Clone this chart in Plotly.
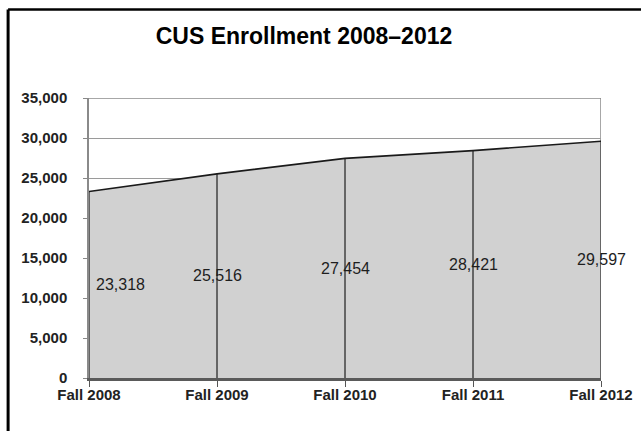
import plotly.graph_objects as go

# Enrollment by fall term
terms = ["Fall 2008", "Fall 2009", "Fall 2010", "Fall 2011", "Fall 2012"]
enrollment = [23318, 25516, 27454, 28421, 29597]
y_ticks = [0, 5000, 10000, 15000, 20000, 25000, 30000, 35000]

xs = list(range(len(terms)))
FONT = "Liberation Sans, Arial"

fig = go.Figure()

# Filled area under the enrollment line
fig.add_trace(go.Scatter(
    x=xs, y=enrollment, mode="lines",
    line=dict(color="#1a1a1a", width=1.6),
    fill="tozeroy", fillcolor="#d1d1d1",
    hoverinfo="skip", showlegend=False,
))

# Drop lines from the axis up to each data point
drop_x, drop_y = [], []
for x, v in zip(xs, enrollment):
    drop_x += [x, x, None]
    drop_y += [0, v, None]
fig.add_trace(go.Scatter(
    x=drop_x, y=drop_y, mode="lines",
    line=dict(color="#1e1e1e", width=1.2),
    hoverinfo="skip", showlegend=False,
))

# Value labels placed at the middle of the area
for x, v in zip(xs, enrollment):
    fig.add_annotation(
        x=x, y=v / 2, text=f"{v:,}", showarrow=False,
        xshift=31 if x == 0 else 0,
        font=dict(family=FONT, size=16, color="#1e1e1e"),
    )

# Outer frame (top and left edges)
fig.add_shape(type="line", xref="paper", yref="paper",
              x0=-0.158, x1=1.2, y0=1.316, y1=1.316,
              line=dict(color="black", width=2.5))
fig.add_shape(type="line", xref="paper", yref="paper",
              x0=-0.158, x1=-0.158, y0=1.316, y1=-0.3,
              line=dict(color="black", width=3))

# Plot-area border on the top and right
fig.add_shape(type="line", xref="x", yref="y", x0=4, x1=4, y0=0, y1=35000,
              line=dict(color="#8a8a8a", width=1.5), layer="below")
fig.add_shape(type="line", xref="x", yref="y", x0=0, x1=4, y0=35000, y1=35000,
              line=dict(color="#8a8a8a", width=1.5), layer="below")

fig.update_layout(
    width=641, height=431,
    margin=dict(l=89, r=40, t=98, b=53),
    paper_bgcolor="white", plot_bgcolor="white",
    title=dict(
        text="<b>CUS Enrollment 2008–2012</b>",
        x=304 / 641, xanchor="center", y=1 - 36 / 431, yanchor="middle",
        font=dict(family=FONT, size=23, color="black"),
    ),
    xaxis=dict(
        range=[0, 4], tickmode="array", tickvals=xs,
        ticktext=[f"<b>{t}</b>" for t in terms],
        showgrid=False, zeroline=False, automargin=False,
        ticks="outside", ticklen=6, tickcolor="#555555",
        ticklabelstandoff=-5,
        showline=True, linecolor="#5a5a5a", linewidth=2.5,
        tickfont=dict(family=FONT, size=15, color="#222222"),
    ),
    yaxis=dict(
        range=[0, 35000], tickmode="array", tickvals=y_ticks,
        ticktext=[f"<b>{t:,}</b>" for t in y_ticks],
        showgrid=True, gridcolor="#9a9a9a", gridwidth=1,
        zeroline=False, automargin=False,
        ticks="outside", ticklen=4, tickcolor="#888888",
        ticklabelstandoff=13,
        showline=True, linecolor="#8a8a8a", linewidth=1.5,
        tickfont=dict(family=FONT, size=15, color="#222222"),
    ),
)

fig.write_html("out.html")
